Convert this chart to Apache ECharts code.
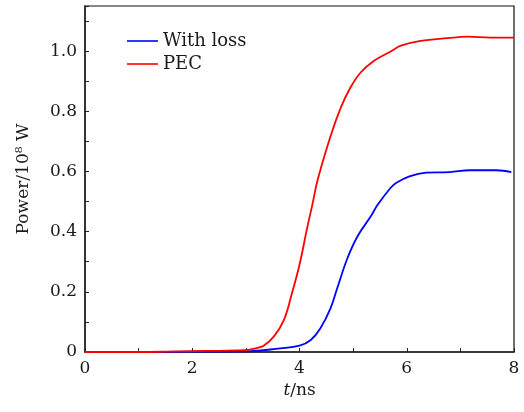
<!DOCTYPE html>
<html><head><meta charset="utf-8">
<script src="https://cdn.jsdelivr.net/npm/echarts@6/dist/echarts.min.js"></script>
<style>html,body{margin:0;padding:0;background:#fff}#c{width:524px;height:412px}</style>
</head><body><div id="c"></div>
<script>
const seriesNames = ['With loss', 'PEC'];
const tWithLoss = [0, 1, 2, 3, 3.64, 4, 4.21, 4.39, 4.58, 4.7, 4.89, 5.08, 5.33, 5.46, 5.7, 5.8, 6.05, 6.36, 6.8, 7.17, 7.67, 7.95];
const pWithLoss = [0, 0, 0.001, 0.002, 0.012, 0.021, 0.04, 0.079, 0.146, 0.21, 0.31, 0.384, 0.451, 0.49, 0.546, 0.562, 0.584, 0.596, 0.598, 0.604, 0.604, 0.598];
const tPEC = [0, 1, 1.5, 2, 2.5, 3, 3.2, 3.33, 3.52, 3.71, 3.86, 4, 4.14, 4.24, 4.34, 4.58, 4.77, 4.95, 5.14, 5.39, 5.7, 5.89, 6.26, 6.76, 7.13, 7.57, 8];
const pPEC = [0, 0, 0.001, 0.003, 0.004, 0.006, 0.013, 0.021, 0.051, 0.107, 0.196, 0.29, 0.41, 0.49, 0.573, 0.718, 0.812, 0.879, 0.929, 0.968, 0.999, 1.018, 1.034, 1.043, 1.048, 1.045, 1.045];
const xTickLabels = ['0', '2', '4', '6', '8'];
const yTickLabels = ['0', '0.2', '0.4', '0.6', '0.8', '1.0'];

const FONT = 'DejaVu Serif';
const chart = echarts.init(document.getElementById('c'));
const zip = (a, b) => a.map((v, i) => [v, b[i]]);
chart.setOption({
  animation: false,
  grid: { left: 85, right: 10, top: 6, bottom: 60, show: true, borderColor: '#111', borderWidth: 1.2 },
  legend: {
    orient: 'vertical', left: 122, top: 27, itemWidth: 31, itemHeight: 1.6, itemGap: 5,
    icon: 'rect',
    textStyle: { fontFamily: FONT, fontSize: 18, lineHeight: 18, color: '#1a1a1a' },
    data: seriesNames
  },
  xAxis: {
    type: 'value', min: 0, max: 8, interval: 1,
    name: '{it|t}/ns', nameLocation: 'middle', nameGap: 25,
    nameTextStyle: { fontFamily: FONT, fontSize: 17, color: '#1a1a1a', rich: { it: { fontStyle: 'italic', fontFamily: FONT, fontSize: 17, color: '#1a1a1a' } } },
    axisLine: { lineStyle: { color: '#222', width: 1.5 } },
    axisTick: { inside: true, length: 4, lineStyle: { color: '#222' } },
    splitLine: { show: false },
    axisLabel: { margin: 8, fontFamily: FONT, fontSize: 17, color: '#1a1a1a',
      formatter: v => { const i = xTickLabels.indexOf(String(Math.round(v))); return (Math.abs(v - Math.round(v)) < 1e-6 && i >= 0) ? xTickLabels[i] : ''; } }
  },
  yAxis: {
    type: 'value', min: 0, max: 1.15, interval: 0.1,
    name: 'Power/10⁸ W', nameLocation: 'middle', nameGap: 53,
    nameTextStyle: { fontFamily: FONT, fontSize: 17, color: '#1a1a1a' },
    axisLine: { show: true, lineStyle: { color: '#222', width: 1.5 } },
    axisTick: { show: true, inside: true, length: 4, lineStyle: { color: '#222' } },
    splitLine: { show: false },
    axisLabel: { margin: 8, fontFamily: FONT, fontSize: 17, color: '#1a1a1a',
      formatter: v => { const k = Math.round(v * 10); if (Math.abs(v * 10 - k) > 1e-6 || k % 2) return ''; return yTickLabels[k / 2] || ''; } }
  },
  series: [
    { name: seriesNames[0], type: 'line', data: zip(tWithLoss, pWithLoss), smooth: 0.4, symbol: 'none', lineStyle: { color: '#0000ff', width: 1.8 }, itemStyle: { color: '#0000ff' } },
    { name: seriesNames[1], type: 'line', data: zip(tPEC, pPEC), smooth: 0.4, symbol: 'none', lineStyle: { color: '#ff0000', width: 1.8 }, itemStyle: { color: '#ff0000' } }
  ]
});
</script></body></html>
